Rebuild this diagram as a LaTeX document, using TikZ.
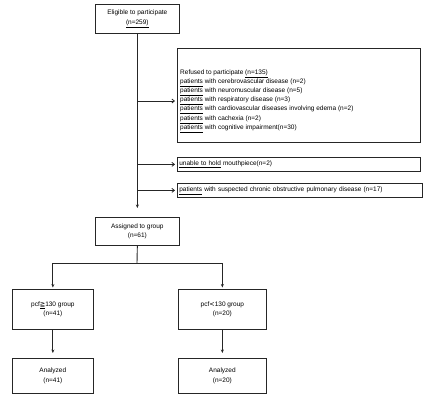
\documentclass[tikz,border=0pt]{standalone}
\usepackage{fontspec}
\setmainfont{Liberation Sans}
\newfontfamily\symfont{DejaVu Sans}
\usetikzlibrary{arrows.meta}

\begin{document}
\begin{tikzpicture}[x=1pt,y=-1pt,
  font=\fontsize{6.5}{9.2}\selectfont,
  box/.style={draw=black!85,line width=0.7pt,inner sep=0pt,anchor=north west,align=center},
  down/.style={draw=black!85,line width=0.9pt,-{Stealth[length=3.5pt,width=3pt]}},
  side/.style={draw=black!85,line width=0.8pt,-{Straight Barb[length=2.5pt,width=4pt]},shorten >=2pt}]
\useasboundingbox (0,0) rectangle (442,400);
% top of the flow
\node[box,minimum width=84,minimum height=29] (elig) at (95,4) {Eligible to participate\\\underline{(n=259)}};
\node[box,minimum width=243,minimum height=94] (refused) at (177,48) {};
\node[anchor=west,align=left,inner sep=0pt] (reftxt) at (180,101) {Refused to participate \underline{(n=135)}\\
\underline{patients} with cerebrovascular disease (n=2)\\
\underline{patients} with neuromuscular disease (n=5)\\
\underline{patients} with respiratory disease (n=3)\\
\underline{patients} with cardiovascular diseases involving edema (n=2)\\
\underline{patients} with cachexia (n=2)\\
\underline{patients} with cognitive impairment(n=30)};
\node[box,minimum width=243,minimum height=14,align=left,text width=239,inner xsep=2pt] (unable) at (177,157) {\underline{unable to hold} mouthpiece(n=2)};
\node[box,minimum width=245,minimum height=14,align=left,text width=241,inner xsep=2pt] (suspect) at (177,183) {\underline{patients} with suspected chronic obstructive pulmonary disease (n=17)};
\node[box,minimum width=84,minimum height=28] (assign) at (95,217) {Assigned to group\\(n=61)};
% two groups
\node[box,minimum width=81,minimum height=40] (hi) at (12,289) {pcf{\symfont\underline{≧}}130 group\\(n=41)};
\node[box,minimum width=88,minimum height=40] (lo) at (178,289) {pcf{\symfont<}130 group\\(n=20)};
\node[box,minimum width=81,minimum height=35] (anlhi) at (12,358) {Analyzed\\(n=41)};
\node[box,minimum width=88,minimum height=35] (anllo) at (178,358) {Analyzed\\(n=20)};
\coordinate (split) at (137,263);
% connectors
\draw[down,shorten >=9pt] (elig.south) -- (assign.north);
\draw[side] (elig.south |- reftxt.west) -- (refused.west |- reftxt.west);
\draw[side] (elig.south |- unable.west) -- (unable.west);
\draw[side] (elig.south |- suspect.west) -- (suspect.west);
\draw[draw=black!85,line width=0.9pt] (assign.south) -- (split);
\draw[down,shorten >=1.5pt] (split) -| (hi.north);
\draw[down,shorten >=1.5pt] (split) -| (lo.north);
\draw[down,shorten >=5pt] (hi.south) -- (anlhi.north);
\draw[down,shorten >=5pt] (lo.south) -- (anllo.north);
\end{tikzpicture}
\end{document}
